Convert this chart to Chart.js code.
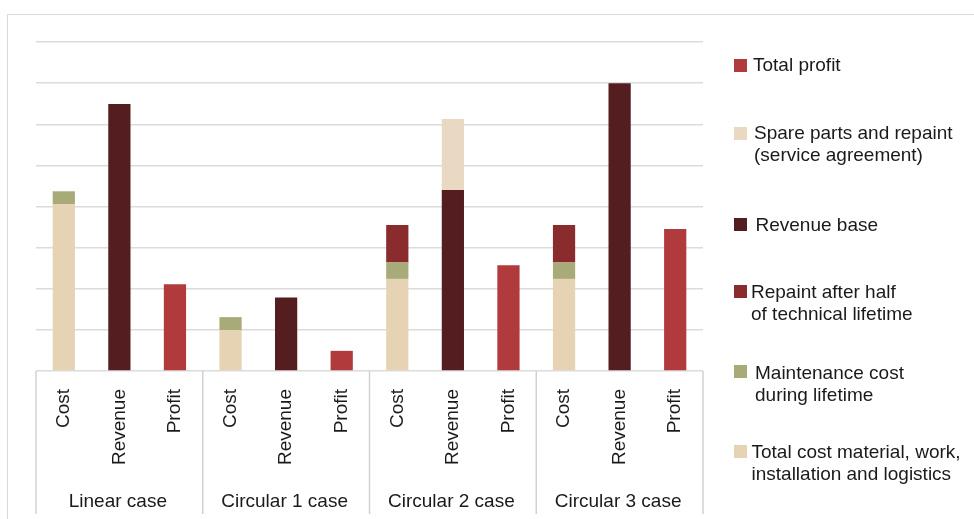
<!DOCTYPE html>
<html>
<head>
<meta charset="utf-8">
<script src="https://cdn.jsdelivr.net/npm/chart.js@4.4.1/dist/chart.umd.min.js"></script>
<style>
  html, body { margin: 0; padding: 0; background: #ffffff; }
  #wrap { position: relative; width: 974px; height: 519px; overflow: hidden; font-family: "Liberation Sans", Arial, sans-serif; }
  #frame { position: absolute; left: 7px; top: 14px; width: 1000px; height: 600px; border-left: 1.5px solid #dadada; border-top: 1.5px solid #dadada; box-sizing: border-box; }
  #c { position: absolute; left: 0; top: 0; }
  .lg-sq { position: absolute; width: 13px; height: 13px; }
  .lg-tx { position: absolute; font-size: 19px; line-height: 22px; color: #1a1a1a; white-space: nowrap; }
</style>
</head>
<body>
<div id="wrap">
  <div id="frame"></div>
  <canvas id="c" width="974" height="519"></canvas>
  <div id="legend"></div>
</div>
<script>
// ---- data ----
const categories = ['Cost','Revenue','Profit','Cost','Revenue','Profit','Cost','Revenue','Profit','Cost','Revenue','Profit'];
const groups = ['Linear case','Circular 1 case','Circular 2 case','Circular 3 case'];
const totalCost   = [4.05, null, null, 0.99, null, null, 2.24, null, null, 2.24, null, null];
const maintenance = [0.32, null, null, 0.32, null, null, 0.40, null, null, 0.40, null, null];
const repaint     = [null, null, null, null, null, null, 0.91, null, null, 0.91, null, null];
const revenueBase = [null, 6.49, null, null, 1.79, null, null, 4.40, null, null, 7.00, null];
const spareParts  = [null, null, null, null, null, null, null, 1.73, null, null, null, null];
const totalProfit = [null, null, 2.11, null, null, 0.49, null, null, 2.57, null, null, 3.45];

const seriesNames = {
  totalCost: ['Total cost material, work,', 'installation and logistics'],
  maintenance: ['Maintenance cost', 'during lifetime'],
  repaint: ['Repaint after half', 'of technical lifetime'],
  revenueBase: ['Revenue base'],
  spareParts: ['Spare parts and repaint', '(service agreement)'],
  totalProfit: ['Total profit']
};

// ---- styles ----
const colors = {
  totalCost: '#E6D3B4',
  maintenance: '#A8AA77',
  repaint: '#8A2B2D',
  revenueBase: '#541E20',
  spareParts: '#E9D9C3',
  totalProfit: '#B13B3C'
};
const FONT = '"Liberation Sans", Arial, sans-serif';
const FS = 19;
const TEXT = '#1a1a1a';

const legendOrder = ['totalProfit','spareParts','revenueBase','repaint','maintenance','totalCost'];
const legendLayout = {
  totalProfit: { sqY: 58.7, txX: 753, txY: 54.3 },
  spareParts:  { sqY: 126.7, txX: 754, txY: 122.3 },
  revenueBase: { sqY: 218.3, txX: 755.5, txY: 214 },
  repaint:     { sqY: 285, txX: 751, txY: 281 },
  maintenance: { sqY: 365, txX: 755, txY: 362.3 },
  totalCost:   { sqY: 445, txX: 751.5, txY: 441.4 }
};

const seriesData = { totalCost, maintenance, repaint, revenueBase, spareParts, totalProfit };
const stackOrder = ['totalCost','maintenance','repaint','revenueBase','spareParts','totalProfit'];

const datasets = stackOrder.map(k => ({
  label: seriesNames[k].join(' '),
  data: seriesData[k],
  backgroundColor: colors[k],
  borderWidth: 0,
  stack: 's',
  barPercentage: 0.4,
  categoryPercentage: 1.0
}));

const groupPlugin = {
  id: 'groups',
  afterDraw(chart) {
    const ctx = chart.ctx;
    const xs = chart.scales.x;
    const base = chart.chartArea.bottom;
    const n = categories.length;
    const step = xs.getPixelForValue(1) - xs.getPixelForValue(0);
    ctx.save();
    ctx.strokeStyle = '#d2d2d2';
    ctx.lineWidth = 1.5;
    for (let g = 0; g <= groups.length; g++) {
      const idx = g * 3;
      const x = idx < n ? xs.getPixelForValue(idx) - step / 2 : xs.getPixelForValue(n - 1) + step / 2;
      ctx.beginPath();
      ctx.moveTo(x, base);
      ctx.lineTo(x, 514);
      ctx.stroke();
    }
    ctx.fillStyle = TEXT;
    ctx.font = FS + 'px ' + FONT;
    ctx.textAlign = 'center';
    ctx.textBaseline = 'alphabetic';
    groups.forEach((g, i) => {
      const x = xs.getPixelForValue(i * 3 + 1) - 1.5;
      ctx.fillText(g, x, 506.5);
    });
    ctx.restore();
  }
};

new Chart(document.getElementById('c'), {
  type: 'bar',
  data: { labels: categories, datasets },
  options: {
    responsive: false,
    animation: false,
    devicePixelRatio: 1,
    layout: { padding: { left: 36, top: 42, right: 271, bottom: 0 } },
    plugins: { legend: { display: false }, tooltip: { enabled: false } },
    scales: {
      x: {
        stacked: true,
        grid: { display: false },
        border: { display: false },
        ticks: {
          minRotation: 90, maxRotation: 90, autoSkip: false,
          padding: 10,
          color: TEXT,
          font: { family: FONT, size: FS }
        },
        afterFit(s) { s.height = 519 - 371; }
      },
      y: {
        stacked: true,
        min: 0, max: 8,
        ticks: { display: false, stepSize: 1 },
        grid: { color: '#dcdcdc', lineWidth: 1.5, drawTicks: false },
        border: { display: false },
        afterFit(s) { s.width = 0; }
      }
    }
  },
  plugins: [groupPlugin]
});

// HTML legend built from series
const lg = document.getElementById('legend');
legendOrder.forEach(k => {
  const L = legendLayout[k];
  const sq = document.createElement('div');
  sq.className = 'lg-sq';
  sq.style.left = '734px';
  sq.style.top = L.sqY + 'px';
  sq.style.background = colors[k];
  lg.appendChild(sq);
  const tx = document.createElement('div');
  tx.className = 'lg-tx';
  tx.style.left = L.txX + 'px';
  tx.style.top = L.txY + 'px';
  tx.innerHTML = seriesNames[k].join('<br>');
  lg.appendChild(tx);
});
</script>
</body>
</html>
